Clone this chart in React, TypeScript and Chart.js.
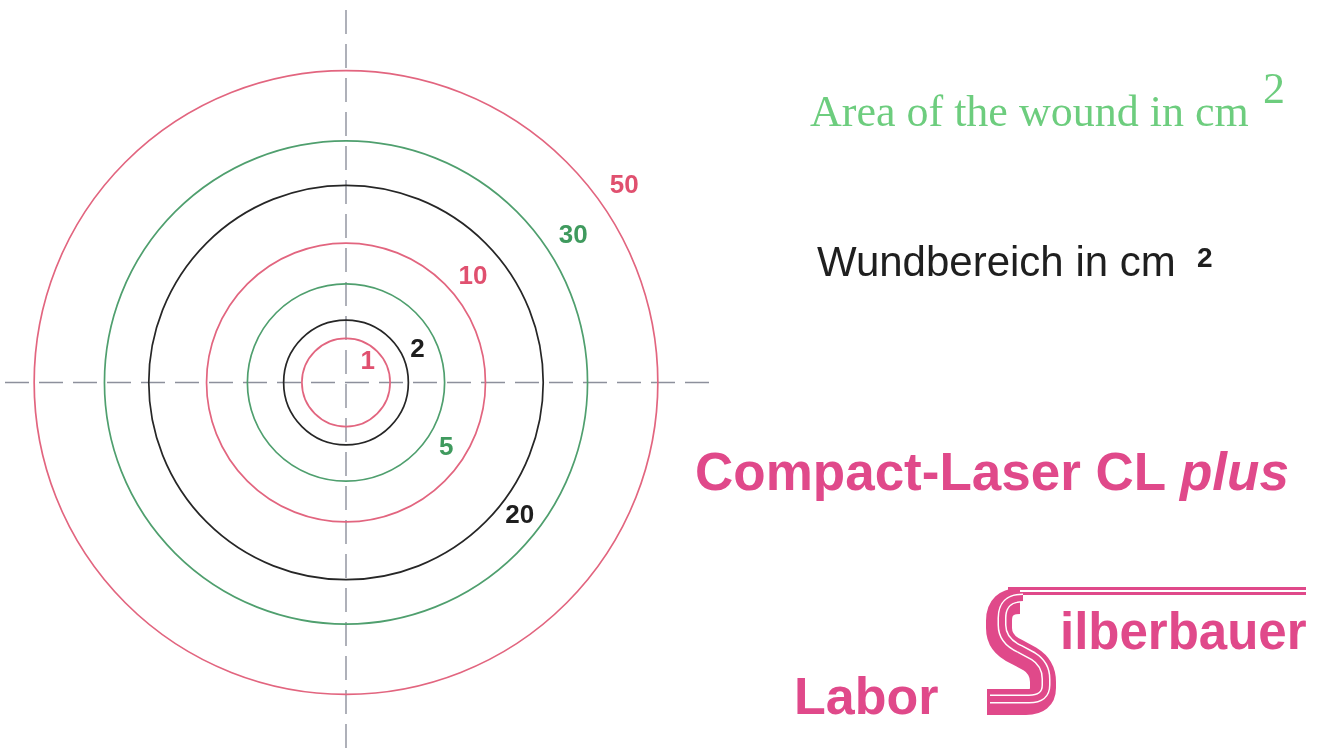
import React, { useEffect, useRef } from "react";
import { Chart, registerables } from "chart.js";

Chart.register(...registerables);

// ---- data ----
const areas = [1, 2, 5, 10, 20, 30, 50]; // wound area in cm²
const areaLabels = ["1", "2", "5", "10", "20", "30", "50"];

// ---- layout / style ----
const W = 1322;
const H = 749;
const CX = 346;
const CY = 382.5;
const PX_PER_CM = 44.1 * Math.sqrt(Math.PI);

const PINK = "#e2657f";
const GREEN = "#4f9f6e";
const DARK = "#262626";
const ringColors = [PINK, DARK, GREEN, PINK, DARK, GREEN, PINK];
const labelColors = ["#e0506f", "#1e1e1e", "#3f9a5e", "#e0506f", "#1e1e1e", "#3f9a5e", "#e0506f"];
const labelAngleDeg = [43.6, 24.3, -33, 39.9, -37.6, 32.9, 35.3];
const labelGapPx = [-14, 16, 21, 26, 22, 29, 29];

const radiusCm = (a: number) => Math.sqrt(a / Math.PI);

const BRAND = "#e0498a";

const crossPlugin = {
  id: "crosshair",
  beforeDatasetsDraw(chart: any) {
    const { ctx, scales } = chart;
    const px = scales.x.getPixelForValue(0);
    const py = scales.y.getPixelForValue(0);
    ctx.save();
    ctx.strokeStyle = "#8d909c";
    ctx.lineWidth = 1.4;
    ctx.setLineDash([24, 10]);
    ctx.beginPath();
    ctx.moveTo(5, py);
    ctx.lineTo(715, py);
    ctx.stroke();
    ctx.beginPath();
    ctx.moveTo(px, 10);
    ctx.lineTo(px, H);
    ctx.stroke();
    ctx.restore();
  },
};

// rings: one per area, radius taken from the x scale (r = sqrt(A/π) cm)
const ringPlugin = {
  id: "rings",
  afterDatasetsDraw(chart: any) {
    const { ctx, scales } = chart;
    const px = scales.x.getPixelForValue(0);
    const py = scales.y.getPixelForValue(0);
    ctx.save();
    ctx.lineWidth = 1.7;
    areas.forEach((a, i) => {
      const r = Math.abs(scales.x.getPixelForValue(radiusCm(a)) - px);
      ctx.strokeStyle = ringColors[i];
      ctx.beginPath();
      ctx.arc(px, py, r, 0, Math.PI * 2);
      ctx.stroke();
    });
    ctx.font = "bold 26px 'Liberation Sans', Arial, sans-serif";
    ctx.textAlign = "center";
    ctx.textBaseline = "middle";
    areas.forEach((a, i) => {
      const r = Math.abs(scales.x.getPixelForValue(radiusCm(a)) - px);
      const d = r + labelGapPx[i];
      const ang = (labelAngleDeg[i] * Math.PI) / 180;
      ctx.fillStyle = labelColors[i];
      ctx.fillText(areaLabels[i], px + d * Math.cos(ang), py - d * Math.sin(ang));
    });
    ctx.restore();
  },
};

function Txt(props: {
  x: number;
  baseline: number;
  size: number;
  family: string;
  asc: number;
  color: string;
  bold?: boolean;
  italic?: boolean;
  children: React.ReactNode;
}) {
  const { x, baseline, size, family, asc, color, bold, italic, children } = props;
  return (
    <div
      style={{
        position: "absolute",
        left: x,
        top: baseline - asc * size,
        fontSize: size,
        lineHeight: 1,
        fontFamily: family,
        fontWeight: bold ? 700 : 400,
        fontStyle: italic ? "italic" : "normal",
        color,
        whiteSpace: "nowrap",
      }}
    >
      {children}
    </div>
  );
}

const SANS = "'Liberation Sans', Arial, sans-serif";
const SERIF = "'Liberation Serif', 'Times New Roman', serif";
const SANS_ASC = 0.8465;
const SERIF_ASC = 0.8375;

const S_PATH =
  "M 1020 601 Q 999 601 999 621 L 999 628 Q 999 644 1017 652 L 1030 659 Q 1043 667 1043 682 L 1043 688 Q 1043 702 1026 702 L 987 702";

export default function App() {
  const canvasRef = useRef<HTMLCanvasElement | null>(null);

  useEffect(() => {
    if (!canvasRef.current) return;
    const chart = new Chart(canvasRef.current, {
      type: "scatter",
      data: {
        datasets: [
          {
            label: "centre",
            data: [{ x: 0, y: 0 }],
            pointRadius: 0,
          },
        ],
      },
      options: {
        responsive: false,
        animation: false,
        events: [],
        layout: { padding: 0 },
        plugins: { legend: { display: false }, tooltip: { enabled: false } },
        scales: {
          x: { type: "linear", display: false, min: -CX / PX_PER_CM, max: (W - CX) / PX_PER_CM },
          y: { type: "linear", display: false, min: -(H - CY) / PX_PER_CM, max: CY / PX_PER_CM },
        },
      },
      plugins: [crossPlugin, ringPlugin],
    });
    return () => chart.destroy();
  }, []);

  return (
    <div style={{ position: "absolute", left: 0, top: 0, width: W, height: H, background: "#fff", overflow: "hidden" }}>
      <canvas ref={canvasRef} width={W} height={H} style={{ position: "absolute", left: 0, top: 0, width: W, height: H }} />

      <Txt x={810} baseline={127} size={44} family={SERIF} asc={SERIF_ASC} color="#6dcd7e">
        Area of the wound in cm
      </Txt>
      <Txt x={1263} baseline={104} size={44} family={SERIF} asc={SERIF_ASC} color="#6dcd7e">
        2
      </Txt>

      <Txt x={817} baseline={277} size={42} family={SANS} asc={SANS_ASC} color="#1f1f1f">
        Wundbereich in cm
      </Txt>
      <Txt x={1197} baseline={268} size={28} family={SANS} asc={SANS_ASC} color="#1f1f1f" bold>
        2
      </Txt>

      <Txt x={695} baseline={490} size={53} family={SANS} asc={SANS_ASC} color={BRAND} bold>
        Compact-Laser CL <span style={{ fontStyle: "italic" }}>plus</span>
      </Txt>

      <Txt x={794} baseline={714} size={52} family={SANS} asc={SANS_ASC} color={BRAND} bold>
        Labor
      </Txt>
      <Txt x={1060} baseline={649} size={51} family={SANS} asc={SANS_ASC} color={BRAND} bold>
        ilberbauer
      </Txt>

      <svg width={W} height={H} style={{ position: "absolute", left: 0, top: 0, pointerEvents: "none" }}>
        {/* top double line */}
        <path d="M 1008 591 L 1306 591" stroke={BRAND} strokeWidth={8} fill="none" />
        <path d="M 1012 591 L 1306 591" stroke="#fff" strokeWidth={2} fill="none" />
        {/* stylised S */}
        <path d={S_PATH} stroke={BRAND} strokeWidth={26} fill="none" />
        <path d={S_PATH} stroke="#fff" strokeWidth={9} fill="none" transform="translate(3,-3)" />
        <path d={S_PATH} stroke={BRAND} strokeWidth={6} fill="none" transform="translate(3,-3)" />
      </svg>
    </div>
  );
}
